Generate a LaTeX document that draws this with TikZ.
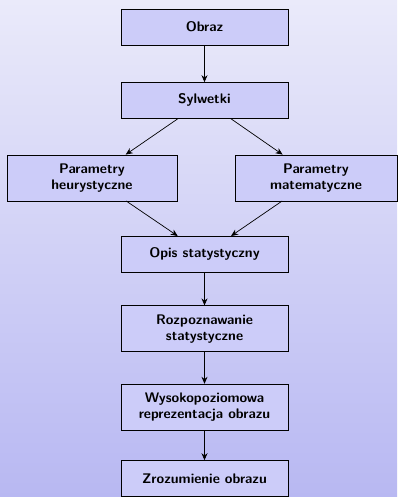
\documentclass[tikz,border=0pt]{standalone}
\usepackage{tikz}
\usetikzlibrary{arrows.meta,positioning}
\definecolor{bgtop}{RGB}{234,234,250}
\definecolor{bgbottom}{RGB}{184,184,242}
\definecolor{boxfill}{RGB}{204,204,249}

\begin{document}
\begin{tikzpicture}[node distance=33pt,box/.style={draw=black,fill=boxfill,align=center,minimum width=167pt,minimum height=36pt,font=\sffamily\bfseries\fontsize{13.9}{16}\selectfont},twobox/.style={box,minimum height=46pt},arr/.style={-{Stealth[length=7pt,width=6pt]},line width=0.7pt}]
\shade[top color=bgtop,bottom color=bgbottom](0,0) rectangle (397pt,-497pt);
\useasboundingbox (0,0) rectangle (397pt,-497pt);
\node[box](obraz) at (204.5pt,-27pt){Obraz};
\node[box,below=37pt of obraz](sylwetki){Sylwetki};
\node[twobox,below=36pt of sylwetki,xshift=-112.5pt,minimum width=170pt](heur){Parametry\\heurystyczne};
\node[twobox,below=36pt of sylwetki,xshift=111.5pt,minimum width=162pt](mat){Parametry\\matematyczne};
\node[box,below=35pt of heur,xshift=112.5pt](opis){Opis statystyczny};
\node[twobox,below=of opis](rozp){Rozpoznawanie\\statystyczne};
\node[twobox,below=32pt of rozp](wys){Wysokopoziomowa\\reprezentacja obrazu};
\node[box,below=30pt of wys](zroz){Zrozumienie obrazu};
\draw[arr](obraz)--(sylwetki);\draw[arr](sylwetki)--(heur);\draw[arr](sylwetki)--(mat);
\draw[arr](heur)--(opis);\draw[arr](mat)--(opis);\draw[arr](opis)--(rozp);\draw[arr](rozp)--(wys);\draw[arr](wys)--(zroz);
\end{tikzpicture}
\end{document}
